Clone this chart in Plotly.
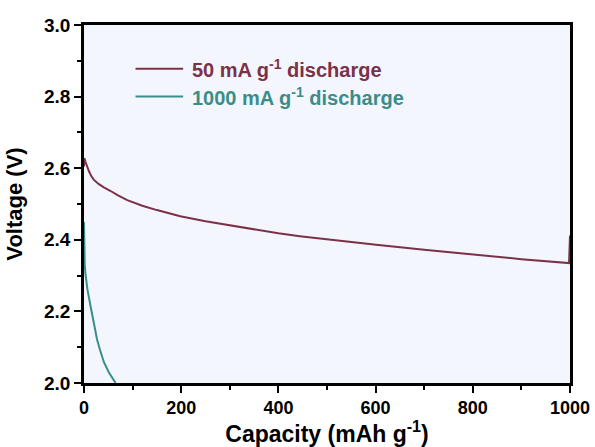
import plotly.graph_objects as go

# 50 mA g-1 discharge
cap_50 = [0, 1, 3, 6, 10, 15, 20, 30, 40, 54, 70, 89, 120, 150, 198, 250, 300, 350, 400, 444, 500, 601, 700, 800, 900, 998, 1000]
volt_50 = [2.605, 2.628, 2.618, 2.605, 2.592, 2.578, 2.568, 2.556, 2.547, 2.537, 2.524, 2.511, 2.495, 2.483, 2.466,
           2.452, 2.440, 2.428, 2.418, 2.410, 2.401, 2.386, 2.372, 2.358, 2.346, 2.335, 2.412]

# 1000 mA g-1 discharge
cap_1000 = [0, 0.5, 1.5, 3, 7, 13, 20, 27, 33, 41, 51, 60, 65]
volt_1000 = [2.450, 2.400, 2.330, 2.305, 2.262, 2.218, 2.170, 2.121, 2.092, 2.058, 2.030, 2.010, 2.000]

names = ["50 mA g<sup>-1</sup> discharge", "1000 mA g<sup>-1</sup> discharge"]
colors = ["#7b3148", "#3b8d89"]

fig = go.Figure()
fig.add_trace(go.Scatter(x=cap_50, y=volt_50, mode="lines", line=dict(color=colors[0], width=2), showlegend=False))
fig.add_trace(go.Scatter(x=cap_1000, y=volt_1000, mode="lines", line=dict(color=colors[1], width=2), showlegend=False))

# legend drawn as paper-positioned lines and labels
leg_y = [0.878, 0.800]
for i in range(2):
    fig.add_shape(type="line", xref="paper", yref="paper", x0=0.106, x1=0.204, y0=leg_y[i], y1=leg_y[i],
                  line=dict(color=colors[i], width=2))
    fig.add_annotation(xref="paper", yref="paper", x=0.218, y=leg_y[i], text="<b>" + names[i] + "</b>",
                       showarrow=False, xanchor="left", yanchor="middle",
                       font=dict(family="Arial, Liberation Sans", size=20, color=colors[i]))

axis_common = dict(showline=True, linecolor="black", linewidth=2.5, mirror=True,
                   ticks="outside", ticklen=7, tickwidth=2, tickcolor="black",
                   showgrid=False, zeroline=False, automargin=False,
                   tickfont=dict(family="Arial, Liberation Sans", size=18, color="black"))

fig.update_xaxes(range=[0, 1000], dtick=200, tick0=0, tickformat="d",
                 minor=dict(dtick=100, ticks="outside", ticklen=4, tickwidth=2, tickcolor="black"),
                 title=dict(text="<b>Capacity (mAh g<sup>-1</sup>)</b>", standoff=8,
                            font=dict(family="Arial, Liberation Sans", size=23, color="black")),
                 **axis_common)
fig.update_yaxes(range=[2.0, 3.0], dtick=0.2, tick0=2.0, tickformat=".1f",
                 minor=dict(dtick=0.1, ticks="outside", ticklen=4, tickwidth=2, tickcolor="black"),
                 title=dict(text="<b>Voltage (V)</b>", standoff=16,
                            font=dict(family="Arial, Liberation Sans", size=22, color="black")),
                 **axis_common)
fig.update_xaxes(tickprefix="<b>", ticksuffix="</b>")
fig.update_yaxes(tickprefix="<b>", ticksuffix="</b>", tickfont_size=19)

fig.update_layout(width=595, height=447, margin=dict(l=83.5, r=24.5, t=25, b=64),
                  plot_bgcolor="#f4f6fd", paper_bgcolor="white")

fig.write_html("out.html")
